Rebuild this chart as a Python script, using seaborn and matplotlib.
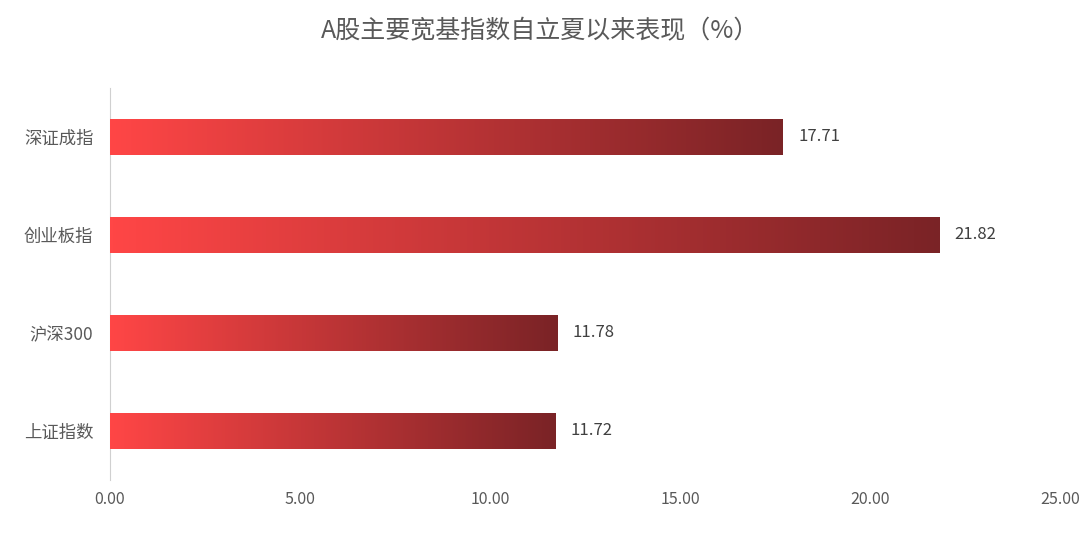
import matplotlib
matplotlib.use("Agg")
import matplotlib.pyplot as plt
import seaborn as sns
import numpy as np
import pandas as pd
from matplotlib.colors import LinearSegmentedColormap

categories = ["深证成指", "创业板指", "沪深300", "上证指数"]
values = [17.71, 21.82, 11.78, 11.72]
xticks = [0, 5, 10, 15, 20, 25]

plt.rcParams["font.family"] = ["Noto Sans CJK SC"]
df = pd.DataFrame({"cat": categories, "val": values})

fig = plt.figure(figsize=(10.8, 5.36), dpi=100)
ax = fig.add_axes([0.1019, 0.1045, 0.8796, 0.7315])
sns.barplot(data=df, x="val", y="cat", ax=ax, width=0.36, color="#e04040", orient="h")

cmap = LinearSegmentedColormap.from_list("g", ["#FF4646", "#7A2326"])
grad = np.linspace(0, 1, 256).reshape(1, -1)
for p in ax.patches:
    x0, y0 = p.get_x(), p.get_y()
    w, h = p.get_width(), p.get_height()
    im = ax.imshow(grad, extent=[x0, x0 + w, y0 + h, y0], cmap=cmap, aspect="auto", zorder=3)
    im.set_clip_path(p)
    p.set_facecolor("none")
    ax.text(x0 + w + 0.4, y0 + h / 2, f"{w:.2f}", va="center", ha="left", fontsize=12, color="#404040")

ax.set_xlim(0, 25)
ax.set_ylim(3.5, -0.5)
ax.set_xticks(xticks)
ax.set_xticklabels([f"{t:.2f}" for t in xticks], fontsize=11.5, color="#595959")
ax.tick_params(axis="y", labelsize=12.5, colors="#595959", length=0, pad=12)
ax.tick_params(axis="x", length=0, pad=8)
ax.set_xlabel("")
ax.set_ylabel("")
for s in ["top", "right", "bottom"]:
    ax.spines[s].set_visible(False)
ax.spines["left"].set_color("#d0d0d0")
ax.grid(False)
fig.suptitle("A股主要宽基指数自立夏以来表现（%）", x=0.5, y=0.965, fontsize=18, color="#595959")
fig.savefig("out.png", dpi=100)
